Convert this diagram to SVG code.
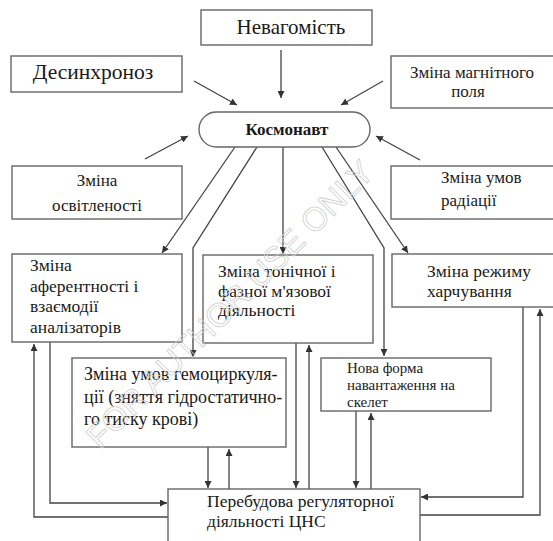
<svg xmlns="http://www.w3.org/2000/svg" width="553" height="541" viewBox="0 0 553 541">
<defs>
<marker id="ah" viewBox="0 0 10 10" refX="10" refY="5" markerWidth="7" markerHeight="7" markerUnits="userSpaceOnUse" orient="auto">
<path d="M0,0 L10,5 L0,10 Z" fill="#333"/>
</marker>
<style>
.box{fill:#fff;stroke:#666;stroke-width:1.4}
.t{font-family:'Liberation Serif','DejaVu Serif','Times New Roman',serif;fill:#1a1a1a}
.c{fill:none;stroke:#444;stroke-width:1.3}
.a{marker-end:url(#ah)}
.wm{font-family:'Liberation Sans',Arial,sans-serif;font-size:33px;fill:none;stroke:#cfcfcf;stroke-width:0.8}
</style>
</defs>
<rect width="553" height="541" fill="#fff"/>

<g id="connectors">
<line class="c a" x1="281" y1="50" x2="281" y2="98"/>
<line class="c a" x1="194" y1="81" x2="237" y2="105"/>
<line class="c a" x1="383" y1="81" x2="341" y2="105"/>
<line class="c a" x1="145" y1="159" x2="188" y2="136"/>
<line class="c a" x1="420" y1="160" x2="376" y2="136"/>

<line class="c a" x1="235" y1="147" x2="162" y2="253"/>
<polyline class="c a" points="257,147 193,248 193,357"/>
<line class="c a" x1="283" y1="147" x2="283" y2="254"/>
<polyline class="c a" points="322,147 384,248 384,356"/>
<line class="c a" x1="336" y1="147" x2="408" y2="253"/>

<polyline class="c a" points="168,517 34,517 34,344"/>
<polyline class="c a" points="50,342 50,503 167,503"/>
<line class="c a" x1="208" y1="447" x2="208" y2="488"/>
<line class="c a" x1="229" y1="489" x2="229" y2="449"/>
<line class="c a" x1="296" y1="343" x2="296" y2="488"/>
<line class="c a" x1="309" y1="489" x2="309" y2="345"/>
<line class="c a" x1="356" y1="411" x2="356" y2="488"/>
<line class="c a" x1="371" y1="489" x2="371" y2="413"/>
<polyline class="c a" points="523,307 523,497 421,497"/>
<polyline class="c a" points="420,515 540,515 540,309"/>
</g>

<g id="n-nevagomist">
<rect class="box" x="201" y="10" width="171" height="35"/>
<text class="t" x="291" y="34" font-size="21" text-anchor="middle">Невагомість</text>
</g>

<g id="n-desynchronoz">
<rect class="box" x="11" y="56" width="171" height="36"/>
<text class="t" x="93" y="79" font-size="21.5" text-anchor="middle">Десинхроноз</text>
</g>

<g id="n-magnit">
<rect class="box" x="391" y="56" width="165" height="52"/>
<text class="t" x="472" y="78" font-size="17" text-anchor="middle">Зміна магнітного</text>
<text class="t" x="468" y="97" font-size="17" text-anchor="middle">поля</text>
</g>

<g id="n-kosmonavt">
<rect class="box" x="199" y="112" width="171" height="35" rx="17.5" ry="17.5"/>
<text class="t" x="287" y="135" font-size="17" font-weight="bold" text-anchor="middle">Космонавт</text>
</g>

<g id="n-osvitlenist">
<rect class="box" x="12" y="166" width="170" height="53"/>
<text class="t" x="97" y="186" font-size="17" text-anchor="middle">Зміна</text>
<text class="t" x="97" y="211" font-size="17" text-anchor="middle">освітленості</text>
</g>

<g id="n-radiatsiya">
<rect class="box" x="391" y="166" width="165" height="53"/>
<text class="t" x="441" y="183" font-size="17">Зміна умов</text>
<text class="t" x="441" y="206" font-size="17">радіації</text>
</g>

<g id="n-aferentnist">
<rect class="box" x="12" y="254" width="170" height="88"/>
<text class="t" x="30" y="271" font-size="17.5">Зміна</text>
<text class="t" x="30" y="292" font-size="17.5">аферентності і</text>
<text class="t" x="30" y="312" font-size="17.5">взаємодії</text>
<text class="t" x="30" y="333" font-size="17.5">аналізаторів</text>
</g>

<g id="n-tonichna">
<rect class="box" x="203" y="255" width="170" height="88"/>
<text class="t" x="218" y="277" font-size="17.5">Зміна тонічної і</text>
<text class="t" x="218" y="297" font-size="17.5">фазної м'язової</text>
<text class="t" x="218" y="316" font-size="17.5">діяльності</text>
</g>

<g id="n-kharchuvannya">
<rect class="box" x="392" y="254" width="164" height="53"/>
<text class="t" x="427" y="277" font-size="17.5">Зміна режиму</text>
<text class="t" x="427" y="297" font-size="17.5">харчування</text>
</g>

<g id="n-gemotsyrkulyatsiya">
<rect class="box" x="72" y="358" width="214" height="89"/>
<text class="t" x="84" y="380" font-size="18">Зміна умов гемоциркуля-</text>
<text class="t" x="84" y="403" font-size="18">ції (зняття гідростатично-</text>
<text class="t" x="84" y="425" font-size="18">го тиску крові)</text>
</g>

<g id="n-skelet">
<rect class="box" x="321" y="358" width="170" height="53"/>
<text class="t" x="347" y="373" font-size="15">Нова форма</text>
<text class="t" x="347" y="390" font-size="15">навантаження на</text>
<text class="t" x="347" y="407" font-size="15">скелет</text>
</g>

<g id="n-perebudova">
<rect class="box" x="168" y="489" width="252" height="60"/>
<text class="t" x="207" y="507" font-size="17.5">Перебудова регуляторної</text>
<text class="t" x="207" y="527" font-size="17.5">діяльності ЦНС</text>
</g>

<text class="wm" x="0" y="0" transform="translate(100,450) rotate(-45)">FOR AUTHOR USE ONLY</text>
</svg>
